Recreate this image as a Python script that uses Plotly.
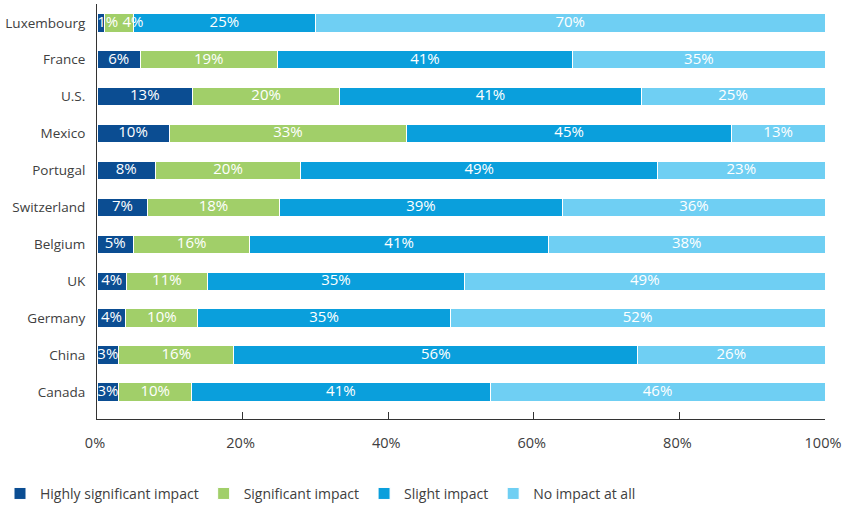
import plotly.graph_objects as go

countries = ["Luxembourg", "France", "U.S.", "Mexico", "Portugal", "Switzerland",
             "Belgium", "UK", "Germany", "China", "Canada"]

highly_significant = [1, 6, 13, 10, 8, 7, 5, 4, 4, 3, 3]
significant = [4, 19, 20, 33, 20, 18, 16, 11, 10, 16, 10]
slight = [25, 41, 41, 45, 49, 39, 41, 35, 35, 56, 41]
no_impact = [70, 35, 25, 13, 23, 36, 38, 49, 52, 26, 46]

series = [
    ("Highly significant impact", highly_significant, "#0b4d92"),
    ("Significant impact", significant, "#a1cf69"),
    ("Slight impact", slight, "#0a9fdc"),
    ("No impact at all", no_impact, "#6fcff3"),
]

x_ticks = [0, 20, 40, 60, 80, 100]
x_tick_labels = ["0%", "20%", "40%", "60%", "80%", "100%"]

FONT = "Open Sans, Noto Sans, sans-serif"
LABEL_SIZE = 15
PLOT_W = 842 - 97 - 17  # pixel width of the plotting area


def label_half_width(txt):
    """Approximate half width of a value label, in percent-axis units."""
    px = sum(0.86 * LABEL_SIZE if c == "%" else 0.58 * LABEL_SIZE for c in txt)
    return px / 2 / PLOT_W * 100


fig = go.Figure()
for name, vals, color in series:
    fig.add_trace(go.Bar(
        y=countries,
        x=vals,
        name=name,
        orientation="h",
        marker=dict(color=color, line=dict(color="white", width=1)),
        width=0.5,
        hoverinfo="skip",
    ))

# Value labels sit on top of all segments so narrow segments keep readable text
lab_x, lab_y, lab_t = [], [], []
for i, country in enumerate(countries):
    row = [s[1][i] for s in series]
    total = sum(row)
    left = 0.0
    prev_right = None
    for v in row:
        w = v / total * 100
        txt = f"{v}%"
        hw = label_half_width(txt)
        cx = left + w / 2
        cx = max(cx, hw)
        if prev_right is not None:
            cx = max(cx, prev_right + hw + 0.5)
        lab_x.append(cx)
        lab_y.append(country)
        lab_t.append(txt)
        prev_right = cx + hw
        left += w

fig.add_trace(go.Scatter(
    x=lab_x,
    y=lab_y,
    text=lab_t,
    mode="text",
    textposition="middle center",
    textfont=dict(color="white", size=LABEL_SIZE, family=FONT),
    showlegend=False,
    hoverinfo="skip",
    cliponaxis=False,
))

fig.update_layout(
    barmode="stack",
    barnorm="percent",
    width=842,
    height=506,
    margin=dict(l=97, r=17, t=4, b=87, autoexpand=False),
    paper_bgcolor="white",
    plot_bgcolor="white",
    font=dict(family=FONT, size=14, color="#404040"),
    showlegend=True,
    legend=dict(
        orientation="h",
        xref="container",
        yref="container",
        x=0.0,
        xanchor="left",
        y=0.024,
        yanchor="middle",
        font=dict(size=14, color="#404040", family=FONT),
        traceorder="normal",
        itemclick=False,
        itemdoubleclick=False,
    ),
)

fig.update_xaxes(
    range=[0, 100],
    tickvals=x_ticks,
    ticktext=x_tick_labels,
    ticks="inside",
    ticklen=7,
    tickcolor="#333333",
    showline=True,
    linecolor="#333333",
    linewidth=1,
    showgrid=False,
    zeroline=False,
    ticklabelstandoff=11,
    ticklabelshift=-2,
    ticklabeloverflow="allow",
    tickfont=dict(size=14.5, color="#404040"),
    automargin=False,
    fixedrange=True,
)

fig.update_yaxes(
    categoryorder="array",
    categoryarray=countries,
    autorange=False,
    range=[10.73, -0.51],
    showline=True,
    linecolor="#333333",
    linewidth=1,
    ticks="",
    showgrid=False,
    ticklabelstandoff=8,
    tickfont=dict(size=13.5, color="#404040"),
    automargin=False,
    fixedrange=True,
)

fig.write_html("out.html")
